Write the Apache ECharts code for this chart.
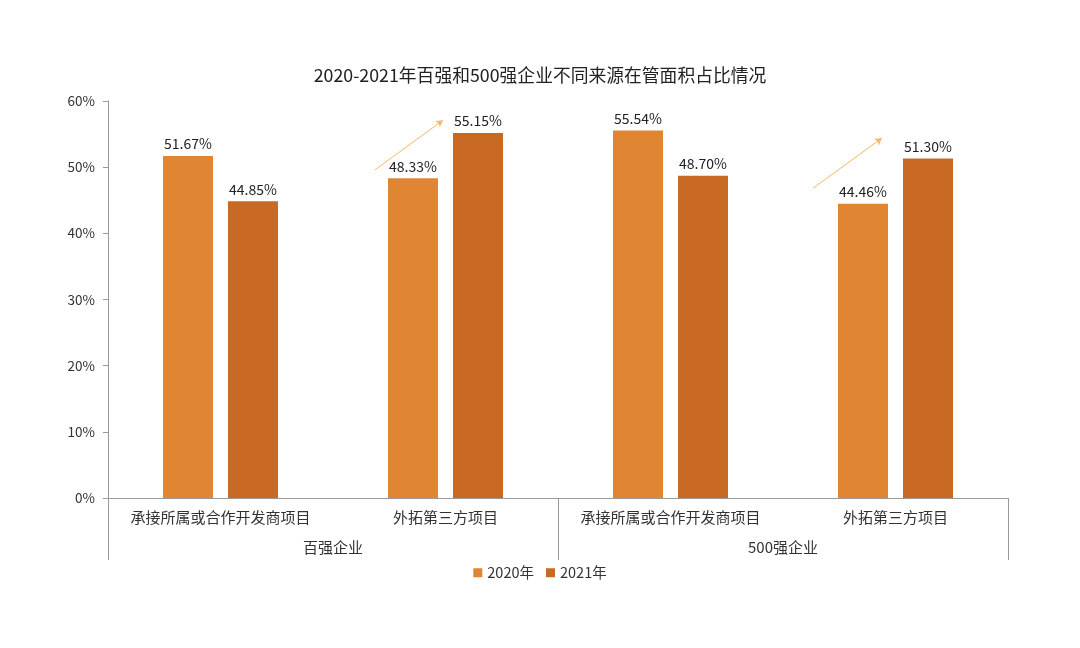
<!DOCTYPE html>
<html>
<head>
<meta charset="utf-8">
<script src="https://cdn.jsdelivr.net/npm/echarts@6/dist/echarts.min.js"></script>
<style>html,body{margin:0;padding:0;background:#fff}#c{width:1080px;height:648px}</style>
</head>
<body>
<div id="c"></div>
<script>
const titleText = '2020-2021年百强和500强企业不同来源在管面积占比情况';
const categories = ['承接所属或合作开发商项目', '外拓第三方项目', '承接所属或合作开发商项目', '外拓第三方项目'];
const groups = ['百强企业', '500强企业'];
const seriesNames = ['2020年', '2021年'];
const values2020 = [51.67, 48.33, 55.54, 44.46];
const values2021 = [44.85, 55.15, 48.70, 51.30];
const yTicks = [0, 10, 20, 30, 40, 50, 60];
// trend arrows: [x position in category units, y value]
const arrow1 = [[1.187, 49.6], [1.489, 57.1]];
const arrow2 = [[3.133, 46.8], [3.44, 54.4]];

const FONT = '"Noto Sans CJK SC", "Noto Sans", sans-serif';
const chart = echarts.init(document.getElementById('c'));
chart.setOption({
  backgroundColor: '#fff',
  textStyle: { fontFamily: FONT },
  title: {
    text: titleText, left: 'center', top: 61,
    textStyle: { fontSize: 17.8, fontWeight: 'normal', color: '#222', fontFamily: FONT }
  },
  legend: {
    data: seriesNames, bottom: 63, left: 'center',
    itemWidth: 9, itemHeight: 9, itemGap: 12, icon: 'rect',
    textStyle: { fontSize: 14.5, color: '#333', fontFamily: FONT }
  },
  grid: { left: 108, right: 72, top: 101, bottom: 150 },
  xAxis: [
    {
      type: 'category', data: categories, position: 'bottom',
      axisLine: { show: true, lineStyle: { color: '#9a9a9a' } },
      axisTick: { show: false },
      axisLabel: { margin: 12, fontSize: 15, color: '#333', interval: 0, fontFamily: FONT }
    },
    {
      type: 'category', data: groups, position: 'bottom',
      axisLine: { show: false },
      axisTick: { show: true, length: 62, lineStyle: { color: '#9a9a9a' } },
      axisLabel: { margin: 42, fontSize: 15, color: '#333', fontFamily: FONT }
    },
    { type: 'value', min: 0, max: 4, show: false }
  ],
  yAxis: {
    type: 'value', min: yTicks[0], max: yTicks[yTicks.length - 1], interval: 10,
    axisLine: { show: true, lineStyle: { color: '#9a9a9a' } },
    axisTick: { show: true, length: 5, lineStyle: { color: '#9a9a9a' } },
    splitLine: { show: false },
    axisLabel: { formatter: '{value}%', fontSize: 13.5, color: '#333', margin: 13, fontFamily: FONT }
  },
  series: [
    {
      name: seriesNames[0], type: 'bar', xAxisIndex: 0, data: values2020,
      barWidth: 50, barGap: '30%',
      itemStyle: { color: '#E08633' },
      label: { show: true, position: 'top', distance: 5, fontSize: 14, color: '#222',
        formatter: p => p.value.toFixed(2) + '%', fontFamily: FONT }
    },
    {
      name: seriesNames[1], type: 'bar', xAxisIndex: 0, data: values2021,
      barWidth: 50, barGap: '30%',
      itemStyle: { color: '#C86A23' },
      label: { show: true, position: 'top', distance: 5, fontSize: 14, color: '#222',
        formatter: p => p.value.toFixed(2) + '%', fontFamily: FONT }
    },
    {
      name: 'arrows', type: 'line', xAxisIndex: 2, data: [], silent: true,
      markLine: {
        silent: true, symbol: ['none', 'arrow'], symbolSize: [6, 7],
        label: { show: false },
        lineStyle: { color: '#F7B766', width: 1, type: 'solid' },
        data: [
          [{ coord: arrow1[0] }, { coord: arrow1[1] }],
          [{ coord: arrow2[0] }, { coord: arrow2[1] }]
        ]
      }
    }
  ]
});
</script>
</body>
</html>
